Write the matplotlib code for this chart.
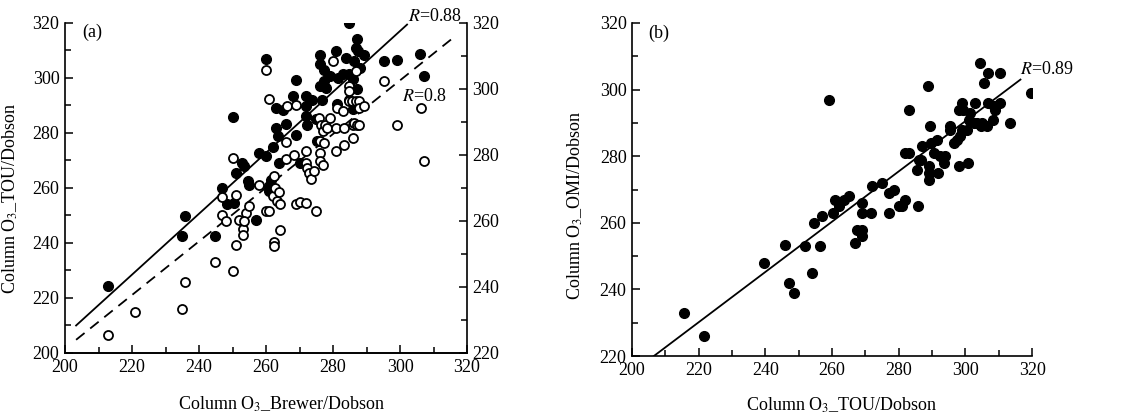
import numpy as np
import matplotlib
matplotlib.use("Agg")
from matplotlib import pyplot as plt
from matplotlib.ticker import MultipleLocator

plt.rcParams['font.family'] = ['Liberation Serif', 'DejaVu Serif']
plt.rcParams['mathtext.fontset'] = 'stix'

# panel (a): filled = TOU vs Brewer/Dobson (left axis)
a_fill_x = [212.7, 235.9, 234.9, 244.8, 247.0, 248.3, 250.0, 250.3, 251.0, 252.9,
            254.5, 255.0, 257.0, 258.0, 260.0, 260.0, 260.8, 261.5, 262.0, 263.0,
            263.0, 263.7, 264.0, 265.0, 266.0, 268.0, 268.9, 269.0, 270.2, 272.0,
            272.0, 272.0, 272.2, 273.7, 274.8, 275.2, 276.0, 276.0, 276.1, 276.7,
            277.2, 277.4, 277.9, 279.2, 281.0, 281.4, 281.2, 282.9, 283.9, 284.9,
            284.9, 285.9, 286.2, 286.9, 287.1, 287.2, 287.6, 288.1, 289.1, 285.9,
            295.1, 299.1, 306.1, 307.1, 284.7, 253.5, 261.0, 262.5]
a_fill_y = [224.5, 249.7, 242.4, 242.4, 259.9, 254.0, 285.8, 254.5, 265.5, 269.0,
            262.4, 261.0, 248.5, 272.7, 307.0, 271.5, 260.6, 263.0, 275.0, 289.0,
            281.8, 278.8, 269.0, 288.5, 283.4, 293.3, 299.4, 279.4, 269.0, 293.3,
            289.7, 286.0, 283.0, 292.0, 285.0, 277.0, 308.5, 305.0, 297.2, 292.0,
            303.0, 298.8, 296.4, 300.8, 309.7, 300.0, 290.7, 301.6, 307.3, 301.6,
            319.8, 299.6, 306.0, 310.9, 314.0, 295.8, 309.7, 303.6, 308.5, 288.8,
            306.0, 306.7, 308.8, 300.8, 292.0, 268.0, 259.0, 258.0]

# panel (a): open = OMI vs Brewer/Dobson (right axis)
a_open_x = [212.9, 220.9, 234.9, 235.9, 244.8, 246.8, 246.8, 248.0, 250.0, 250.0,
            251.0, 251.0, 252.0, 253.0, 253.0, 254.0, 255.0, 258.0, 260.0, 260.0,
            261.0, 261.0, 262.0, 262.3, 262.3, 262.3, 262.8, 263.3, 264.0, 264.2,
            264.2, 266.0, 266.0, 266.2, 268.2, 268.9, 268.9, 270.2, 272.0, 272.0,
            272.0, 272.2, 272.8, 273.3, 274.2, 275.0, 275.7, 276.0, 276.2, 276.2,
            276.5, 276.9, 277.0, 277.2, 277.7, 278.2, 279.2, 280.0, 281.0, 281.0,
            281.2, 282.9, 283.2, 283.2, 284.9, 284.9, 284.9, 285.7, 285.9, 286.0,
            286.2, 286.9, 286.9, 287.2, 287.8, 287.8, 287.8, 289.1, 295.1, 299.1,
            306.3, 307.1, 253.3]
a_open_y = [225.3, 232.3, 233.4, 241.4, 247.6, 267.2, 261.9, 259.9, 279.1, 244.7,
            268.0, 252.6, 260.4, 257.6, 255.8, 262.4, 264.4, 270.8, 305.6, 262.9,
            297.0, 262.9, 267.7, 253.5, 252.3, 273.5, 270.0, 266.0, 268.7, 265.0,
            257.4, 283.8, 278.8, 294.7, 280.1, 295.0, 265.0, 265.8, 281.1, 277.6,
            265.3, 276.0, 274.5, 272.8, 275.0, 263.1, 291.2, 284.1, 280.6, 278.1,
            289.2, 287.2, 276.9, 283.6, 289.2, 288.2, 291.2, 308.4, 288.2, 281.1,
            294.2, 293.2, 288.2, 283.1, 300.8, 299.3, 296.3, 296.3, 289.2, 285.2,
            289.7, 296.3, 305.4, 289.2, 296.3, 294.2, 289.2, 294.7, 302.3, 289.2,
            294.2, 278.1, 259.9]

a_fit1_x = [203.3, 302.1]
a_fit1_y = [210.0, 319.4]
a_fit2_x = [203.3, 315.5]
a_fit2_y = [224.0, 315.2]

# panel (b): OMI vs TOU
b_x = [215.5, 221.7, 239.7, 246.0, 247.0, 248.5, 252.0, 254.0, 254.5, 256.5,
       257.0, 259.0, 260.3, 261.0, 262.0, 263.5, 265.0, 267.0, 267.5, 269.0,
       269.0, 269.0, 269.0, 271.7, 272.0, 275.0, 277.0, 277.0, 278.5, 280.0,
       281.0, 282.0, 282.0, 283.0, 283.0, 285.7, 285.5, 286.0, 286.7, 287.0,
       288.7, 289.0, 289.0, 289.0, 289.5, 289.7, 290.7, 291.5, 291.7, 292.5,
       293.5, 293.8, 295.5, 295.5, 296.7, 297.5, 298.0, 298.0, 298.5, 299.0,
       299.0, 299.3, 300.5, 300.7, 301.0, 301.3, 302.5, 303.0, 303.5, 304.5,
       304.7, 305.0, 305.7, 306.5, 306.7, 306.7, 308.3, 308.5, 309.0, 310.3,
       310.3, 313.3, 319.7]
b_y = [233, 226, 248, 253.5, 242, 239, 253, 245, 260, 253,
       262, 297, 263, 267, 265, 267, 268, 254, 258, 266,
       263, 258, 256, 263, 271, 272, 269, 263, 270, 265,
       265, 267, 281, 281, 294, 265, 276, 279, 279, 283,
       301, 277, 275, 273, 289, 284, 281, 285, 275, 280,
       278, 280, 289, 288, 284, 285, 277, 294, 286, 288,
       296, 294, 288, 278, 291, 293, 290, 296, 290, 308,
       289, 290, 302, 289, 305, 296, 291, 295, 294, 305,
       296, 290, 299]

b_fit_x = [206.5, 316.5]
b_fit_y = [220.0, 303.0]

fig = plt.figure(figsize=(11.43, 4.17), dpi=100)
fs = 13

def style_axis(ax, ylo, yhi):
    ax.set_xlim(200, 320)
    ax.set_ylim(ylo, yhi)
    ax.xaxis.set_major_locator(MultipleLocator(20))
    ax.xaxis.set_minor_locator(MultipleLocator(10))
    ax.yaxis.set_major_locator(MultipleLocator(20))
    ax.yaxis.set_minor_locator(MultipleLocator(10))
    ax.tick_params(which='both', direction='in', labelsize=fs, width=1.1, pad=4)
    ax.tick_params(which='major', length=6)
    ax.tick_params(which='minor', length=4)
    for s in ax.spines.values():
        s.set_linewidth(1.2)
    ax.spines['top'].set_visible(False)

# (a)
ax1 = fig.add_axes([0.0569, 0.1535, 0.3517, 0.7915])
style_axis(ax1, 200, 320)
ax1.spines['right'].set_visible(False)
ax2 = ax1.twinx()
style_axis(ax2, 220, 320)
ax2.spines['left'].set_visible(False)
ax2.tick_params(which='both', labelright=True)

ax1.plot(a_fill_x, a_fill_y, 'o', color='black', ms=7, zorder=3)
ax2.plot(a_open_x, a_open_y, 'o', mfc='white', mec='black', mew=1.3, ms=6.5, zorder=3)
ax1.plot(a_fit1_x, a_fit1_y, '-', color='black', lw=1.3)
ax2.plot(a_fit2_x, a_fit2_y, '--', color='black', lw=1.3, dashes=(6, 4))

ax1.set_xlabel('Column O$_3$_Brewer/Dobson', fontsize=fs)
ax1.xaxis.set_label_coords(0.54, -0.125)
ax1.set_ylabel('Column O$_3$_TOU/Dobson', fontsize=fs)
ax1.yaxis.set_label_coords(-0.112, 0.47)
ax1.text(0.042, 0.97, '(a)', transform=ax1.transAxes, fontsize=fs, va='center')
ax2.text(0.853, 1.018, '$R$=0.88', transform=ax2.transAxes, fontsize=fs,
         va='center', clip_on=False)
ax2.text(0.838, 0.776, '$R$=0.8', transform=ax2.transAxes, fontsize=fs, va='center')

# (b)
ax3 = fig.add_axes([0.553, 0.146, 0.35, 0.799])
style_axis(ax3, 220, 320)
ax3.spines['right'].set_visible(False)
ax3.plot(b_x, b_y, 'o', color='black', ms=7, zorder=3)
ax3.plot(b_fit_x, b_fit_y, '-', color='black', lw=1.3)
ax3.set_xlabel('Column O$_3$_TOU/Dobson', fontsize=fs)
ax3.xaxis.set_label_coords(0.525, -0.117)
ax3.set_ylabel('Column O$_3$_OMI/Dobson', fontsize=fs)
ax3.yaxis.set_label_coords(-0.1175, 0.453)
ax3.text(0.04, 0.97, '(b)', transform=ax3.transAxes, fontsize=fs, va='center')
ax3.text(0.97, 0.859, '$R$=0.89', transform=ax3.transAxes, fontsize=fs,
         va='center', clip_on=False)

fig.savefig('out.png', dpi=100)
